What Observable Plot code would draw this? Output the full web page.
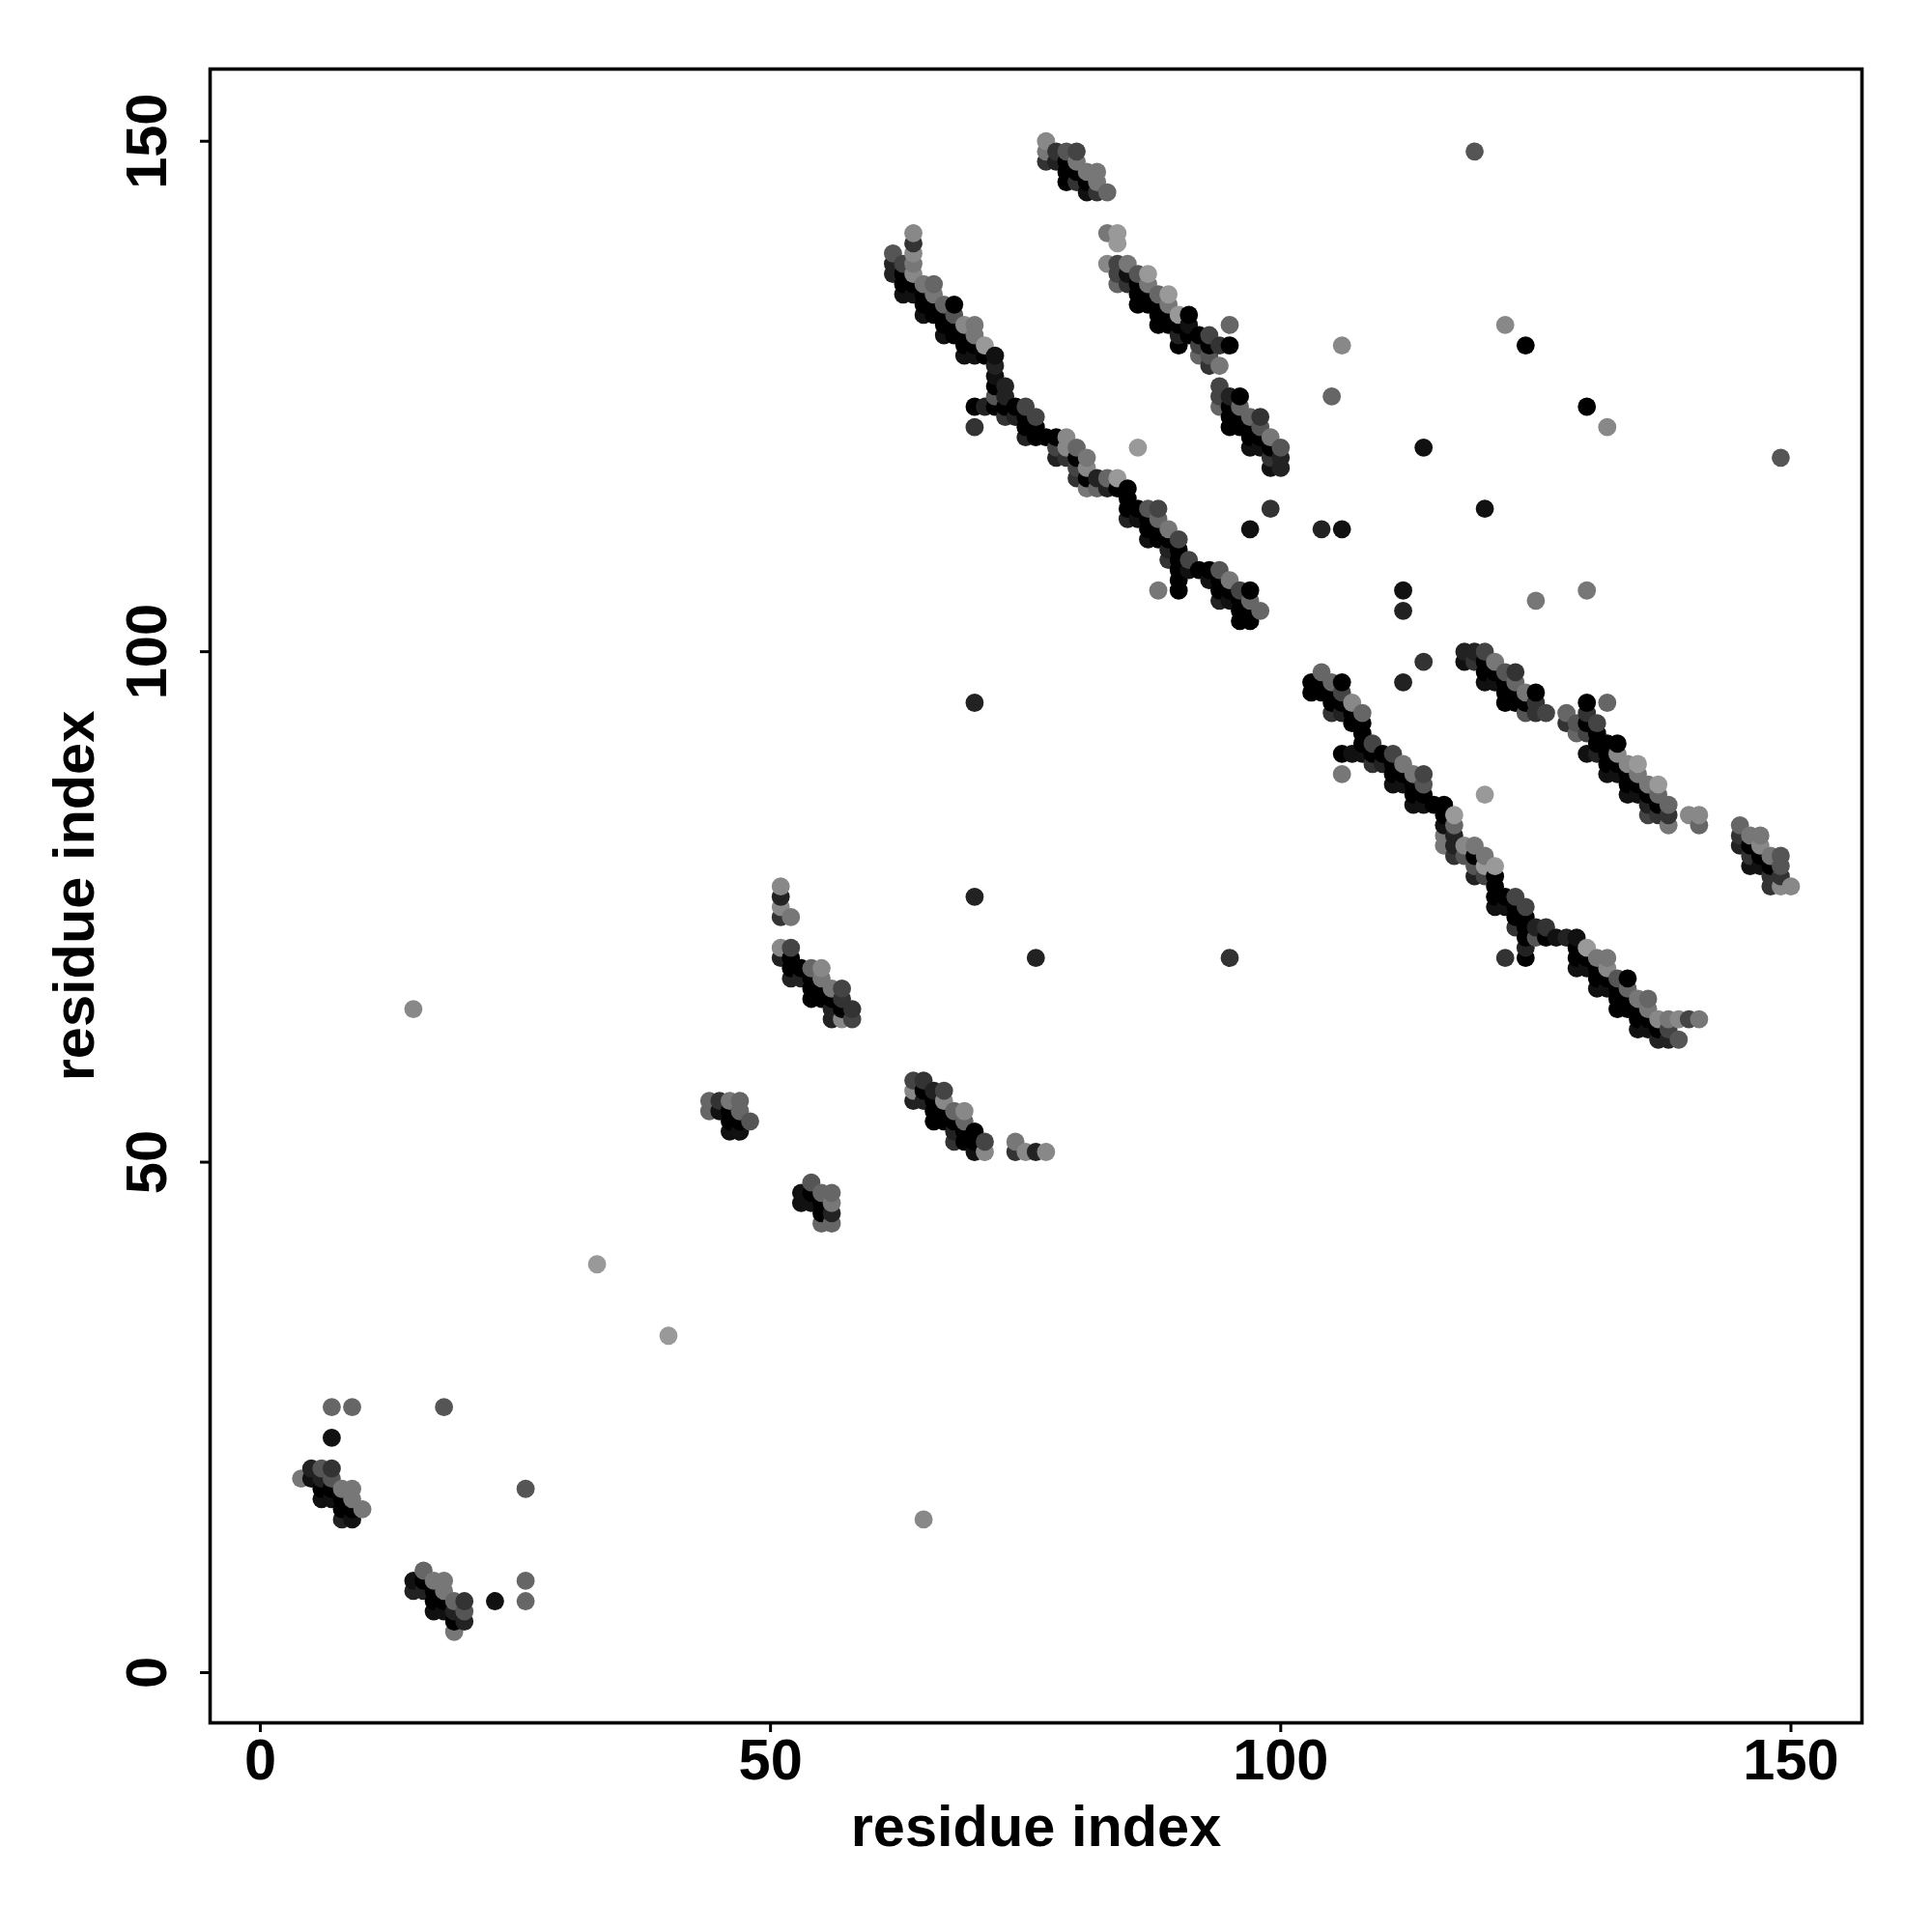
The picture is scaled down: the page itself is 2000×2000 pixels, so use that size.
<!DOCTYPE html>
<html><head><meta charset="utf-8">
<style>html,body{margin:0;padding:0;background:#fff}svg{display:block}</style>
<script src="https://cdn.jsdelivr.net/npm/d3@7"></script>
<script src="https://cdn.jsdelivr.net/npm/@observablehq/plot@0.6"></script>
</head><body><div id="chart"></div>
<script>
// each contact: [residue x, residue y, grey level 0 (black) to 9 (#999)]
const helixA = [[4,19,7],[5,20,2],[5,19,1],[6,20,5],[6,19,2],[6,18,0],[6,17,1],[7,20,3],[7,19,5],[7,18,0],[7,17,1],[8,18,7],[8,17,0],[8,16,0],[8,15,2],[9,18,7],[9,17,7],[9,16,0],[9,15,1],[10,16,7]];
const helixB = [[15,9,1],[15,8,2],[16,10,6],[16,9,0],[16,8,2],[17,9,7],[17,8,0],[17,7,0],[17,6,1],[18,9,7],[18,8,7],[18,7,0],[18,6,1],[19,7,6],[19,6,2],[19,5,0],[19,4,7],[20,7,3],[20,6,5],[20,5,2]];
const helixC = [[44,56,6],[44,55,6],[45,56,3],[45,55,1],[46,56,7],[46,55,0],[46,54,0],[46,53,1],[47,56,6],[47,55,6],[47,54,0],[47,53,1],[48,54,5]];
const helixD = [[53,47,1],[53,46,1],[54,48,5],[54,47,0],[54,46,1],[55,47,6],[55,46,0],[55,45,0],[55,44,6],[56,47,6],[56,46,7],[56,45,2],[56,44,6]];
const helixE = [[51,77,8],[51,76,2],[51,75,8],[51,74,3],[52,74,7],[51,71,8],[51,70,2],[52,71,4],[52,70,0],[52,69,0],[52,68,2],[53,69,0],[53,68,2],[54,69,6],[54,68,0],[54,67,0],[54,66,0],[55,69,8],[55,68,7],[55,67,0],[55,66,0],[56,67,7],[56,66,0],[56,65,2],[56,64,2],[57,67,4],[57,66,3],[57,65,0],[57,64,8],[58,65,3],[58,64,4]];
const helixF = [[64,58,4],[64,57,8],[64,56,2],[65,58,3],[65,57,0],[65,56,2],[66,57,2],[66,56,0],[66,55,0],[66,54,0],[67,57,4],[67,56,8],[67,55,0],[67,54,0],[68,55,6],[68,54,0],[68,53,2],[68,52,3],[69,55,8],[69,54,6],[69,53,0],[69,52,0],[70,53,0],[70,52,0],[70,51,1],[71,52,4],[71,51,8],[74,52,7],[74,51,3],[75,51,8],[76,51,2],[77,51,8]];
const strandTop = [[77,150,8],[77,149,7],[77,148,3],[78,149,3],[78,148,2],[79,149,5],[79,148,0],[79,147,0],[79,146,0],[80,149,4],[80,148,7],[80,147,0],[80,146,3],[81,147,7],[81,146,0],[81,145,1],[82,147,7],[82,146,7],[82,145,3],[83,145,6]];
const strandLong1 = [[62,139,5],[62,138,2],[62,137,2],[63,138,4],[63,137,0],[63,136,0],[63,135,1],[64,141,8],[64,140,3],[64,139,8],[64,138,7],[64,137,8],[64,136,0],[64,135,1],[65,136,7],[65,135,0],[65,134,0],[65,133,1],[66,136,6],[66,135,7],[66,134,0],[66,133,0],[67,134,6],[67,133,0],[67,132,0],[67,131,1],[68,134,0],[68,133,5],[68,132,0],[68,131,0],[69,132,8],[69,131,0],[69,130,0],[69,129,1],[70,132,7],[70,131,7],[70,130,0],[70,129,1],[71,130,9],[71,129,0],[72,129,1],[72,128,2],[72,127,1],[72,126,0],[72,125,5],[72,124,0],[73,126,2],[73,125,2],[73,124,0],[73,123,3],[70,124,0],[71,124,2],[70,122,3],[74,124,0],[74,123,2],[75,124,4],[75,123,0],[75,122,0],[75,121,2],[76,123,4],[76,122,0],[76,121,0],[77,121,0],[78,121,0],[78,120,4],[78,119,2],[79,121,8],[79,120,8],[79,119,3]];
const strandLong2 = [[80,120,6],[80,119,0],[80,118,4],[80,117,3],[81,119,7],[81,118,8],[81,117,0],[81,116,7],[82,117,2],[82,116,6],[83,117,6],[83,116,2],[84,117,9],[84,116,0],[85,116,0],[85,115,0],[85,114,0],[85,113,2],[86,114,0],[86,113,1],[87,114,5],[87,113,0],[87,112,0],[87,111,1],[88,114,4],[88,113,6],[88,112,0],[88,111,0],[89,112,7],[89,111,0],[89,110,2],[89,109,3],[90,111,4],[90,110,0],[90,109,0],[90,108,0],[90,107,0],[90,106,0],[91,109,4],[91,108,1],[92,108,0],[93,108,0],[93,107,1],[94,108,5],[94,107,0],[94,106,0],[94,105,2],[95,107,7],[95,106,0],[95,105,1],[96,106,4],[96,105,0],[96,104,0],[96,103,0],[97,106,0],[97,105,6],[97,104,0],[97,103,0],[98,104,6]];
const strandUpper = [[83,141,7],[84,141,9],[84,140,9],[83,138,8],[84,138,4],[84,137,4],[84,136,6],[85,138,7],[85,137,1],[85,136,3],[86,137,5],[86,136,0],[86,135,0],[86,134,0],[87,137,9],[87,136,7],[87,135,0],[87,134,0],[88,135,6],[88,134,0],[88,133,0],[88,132,0],[89,135,9],[89,134,7],[89,133,0],[89,132,0],[90,133,9],[90,132,0],[90,131,2],[90,130,0],[91,133,0],[91,132,1],[91,131,0],[92,131,0],[92,130,4],[92,129,6],[93,131,4],[93,130,0],[93,129,5],[93,128,3],[94,130,3],[94,128,7],[95,130,0],[95,132,6]];
const strandUpper2 = [[94,126,4],[94,125,4],[94,124,6],[95,125,2],[95,124,0],[95,123,0],[95,122,0],[96,125,0],[96,124,6],[96,123,0],[96,122,0],[97,123,6],[97,122,0],[97,121,0],[97,120,1],[98,123,3],[98,122,5],[98,121,0],[98,120,1],[99,121,7],[99,120,0],[99,119,3],[99,118,1],[100,120,5],[100,119,2],[100,118,2]];
const strandLower1 = [[103,97,0],[103,96,0],[104,98,6],[104,97,0],[104,96,0],[105,97,6],[105,96,0],[105,95,0],[105,94,3],[106,97,0],[106,96,4],[106,95,0],[106,94,2],[106,90,0],[107,90,1],[106,88,7],[107,95,8],[107,94,0],[107,93,0],[108,94,6],[108,93,0],[108,92,0],[108,91,0],[108,90,1],[109,91,4],[109,90,0],[109,89,3],[110,90,0],[110,89,2],[111,90,4],[111,89,0],[111,88,0],[111,87,1],[112,89,7],[112,88,0],[112,87,1],[113,88,7],[113,87,0],[113,86,0],[113,85,1],[114,88,4],[114,87,5],[114,86,0],[114,85,1],[115,85,0],[116,85,0],[116,84,0],[116,83,1],[116,82,7],[116,81,7],[117,84,9],[117,83,6],[117,82,2],[117,81,2],[117,80,3],[118,81,8],[118,80,5],[119,81,7],[119,80,0],[119,79,5],[119,78,2],[120,80,7],[120,79,9],[120,78,4]];
const strandLower2 = [[121,79,9],[121,78,0],[121,77,0],[121,76,0],[121,75,1],[122,76,0],[122,75,1],[123,76,4],[123,75,0],[123,74,0],[123,73,3],[124,75,4],[124,74,0],[124,73,0],[124,72,0],[124,71,2],[124,70,0],[125,73,2],[125,72,5],[126,73,3],[126,72,0],[127,72,1],[128,72,2],[129,72,1],[129,71,0],[129,70,0],[129,69,1],[130,71,9],[130,70,0],[130,69,1],[131,70,7],[131,69,0],[131,68,0],[131,67,1],[132,70,7],[132,69,8],[132,68,0],[132,67,1],[133,68,5],[133,67,0],[133,66,0],[133,65,0],[134,68,0],[134,67,6],[134,66,0],[134,65,0],[135,66,7],[135,65,0],[135,64,0],[135,63,1],[136,66,6],[136,65,7],[136,64,0],[136,63,1],[137,64,8],[137,63,0],[137,62,2],[138,64,7],[138,63,4],[138,62,2],[139,64,8],[139,62,5],[140,64,4],[141,64,7]];
const strandRight1 = [[118,100,2],[118,99,1],[119,100,2],[119,99,3],[120,100,4],[120,99,0],[120,98,0],[120,97,1],[121,99,7],[121,98,0],[121,97,1],[122,98,5],[122,97,0],[122,96,0],[122,95,0],[123,98,3],[123,97,6],[123,96,0],[123,95,0],[124,96,7],[124,95,0],[124,94,5],[125,96,0],[125,95,3],[125,94,3],[126,94,4]];
const strandRight2 = [[128,94,6],[128,93,3],[129,93,5],[129,92,6],[130,95,0],[130,94,3],[130,93,0],[130,92,4],[130,90,1],[131,93,4],[131,92,0],[131,91,0],[131,90,2],[132,95,6],[132,91,0],[132,90,0],[132,89,0],[132,88,1],[133,91,0],[133,90,8],[133,89,0],[133,88,1],[134,89,8],[134,88,0],[134,87,0],[134,86,1],[135,89,9],[135,88,7],[135,87,0],[135,86,1],[136,87,7],[136,86,0],[136,85,2],[136,84,4],[137,87,9],[137,86,6],[137,85,0],[137,84,3],[138,85,6],[138,84,3],[138,83,7],[140,84,8],[141,84,8],[141,83,6]];
const strandRight3 = [[145,83,6],[145,82,3],[145,81,2],[146,82,7],[146,81,0],[146,80,3],[146,79,1],[147,82,7],[147,81,8],[147,80,0],[147,79,1],[148,80,7],[148,79,0],[148,78,3],[148,77,3],[149,80,5],[149,79,5],[149,78,3],[149,77,8],[150,77,8]];
const isolated = [[7,26,6],[9,26,6],[18,26,5],[7,23,1],[26,18,5],[26,9,6],[26,7,6],[23,7,1],[15,65,8],[33,40,9],[40,33,9],[65,15,8],[70,95,2],[70,76,2],[76,70,2],[95,70,3],[122,70,3],[86,120,9],[88,106,7],[99,114,3],[97,112,1],[104,112,2],[106,112,1],[112,106,1],[112,104,2],[114,99,3],[112,97,2],[125,105,7],[130,106,7],[120,114,1],[114,120,1],[149,119,5],[105,125,6],[106,130,8],[122,132,8],[124,130,0],[130,124,0],[132,122,8],[119,149,5],[120,86,9]];

const tickValues = [0, 50, 100, 150];
const axisName = "residue index";
const fontFamily = "'Liberation Sans', Arial, sans-serif";

const contacts = [helixA, helixB, helixC, helixD, helixE, helixF, strandTop, strandLong1, strandLong2, strandUpper, strandUpper2, strandLower1, strandLower2, strandRight1, strandRight2, strandRight3, isolated]
  .flat()
  .sort((a, b) => a[0] - b[0] || a[1] - b[1]);

const grey = d => { const v = d[2] * 17; return `rgb(${v},${v},${v})`; };

const chart = Plot.plot({
  width: 2000, height: 2000,
  marginLeft: 217, marginRight: 73, marginTop: 71, marginBottom: 217,
  style: {background: "#fff", fontFamily, color: "#000", overflow: "visible"},
  x: {domain: [-4.92, 156.96]},
  y: {domain: [-4.92, 157.07]},
  marks: [
    Plot.dot(contacts, {x: d => d[0], y: d => d[1], r: 9.4, fill: grey, stroke: "none"}),
    Plot.frame({stroke: "#000", strokeWidth: 3.6, fill: "none"}),
    Plot.axisX({ticks: tickValues, tickFormat: d => String(d), tickSize: 10, tickPadding: 6, fontSize: 59.5, fontWeight: "bold", strokeWidth: 3,
      label: axisName, labelAnchor: "center", labelArrow: "none", labelOffset: 127}),
    Plot.axisY({ticks: tickValues, tickFormat: d => String(d), tickSize: 10, tickPadding: 36, tickRotate: -90, fontSize: 59.5, fontWeight: "bold", strokeWidth: 3,
      label: axisName, labelAnchor: "center", labelArrow: "none", labelOffset: 163})
  ]
});
document.getElementById("chart").appendChild(chart);
</script></body></html>
